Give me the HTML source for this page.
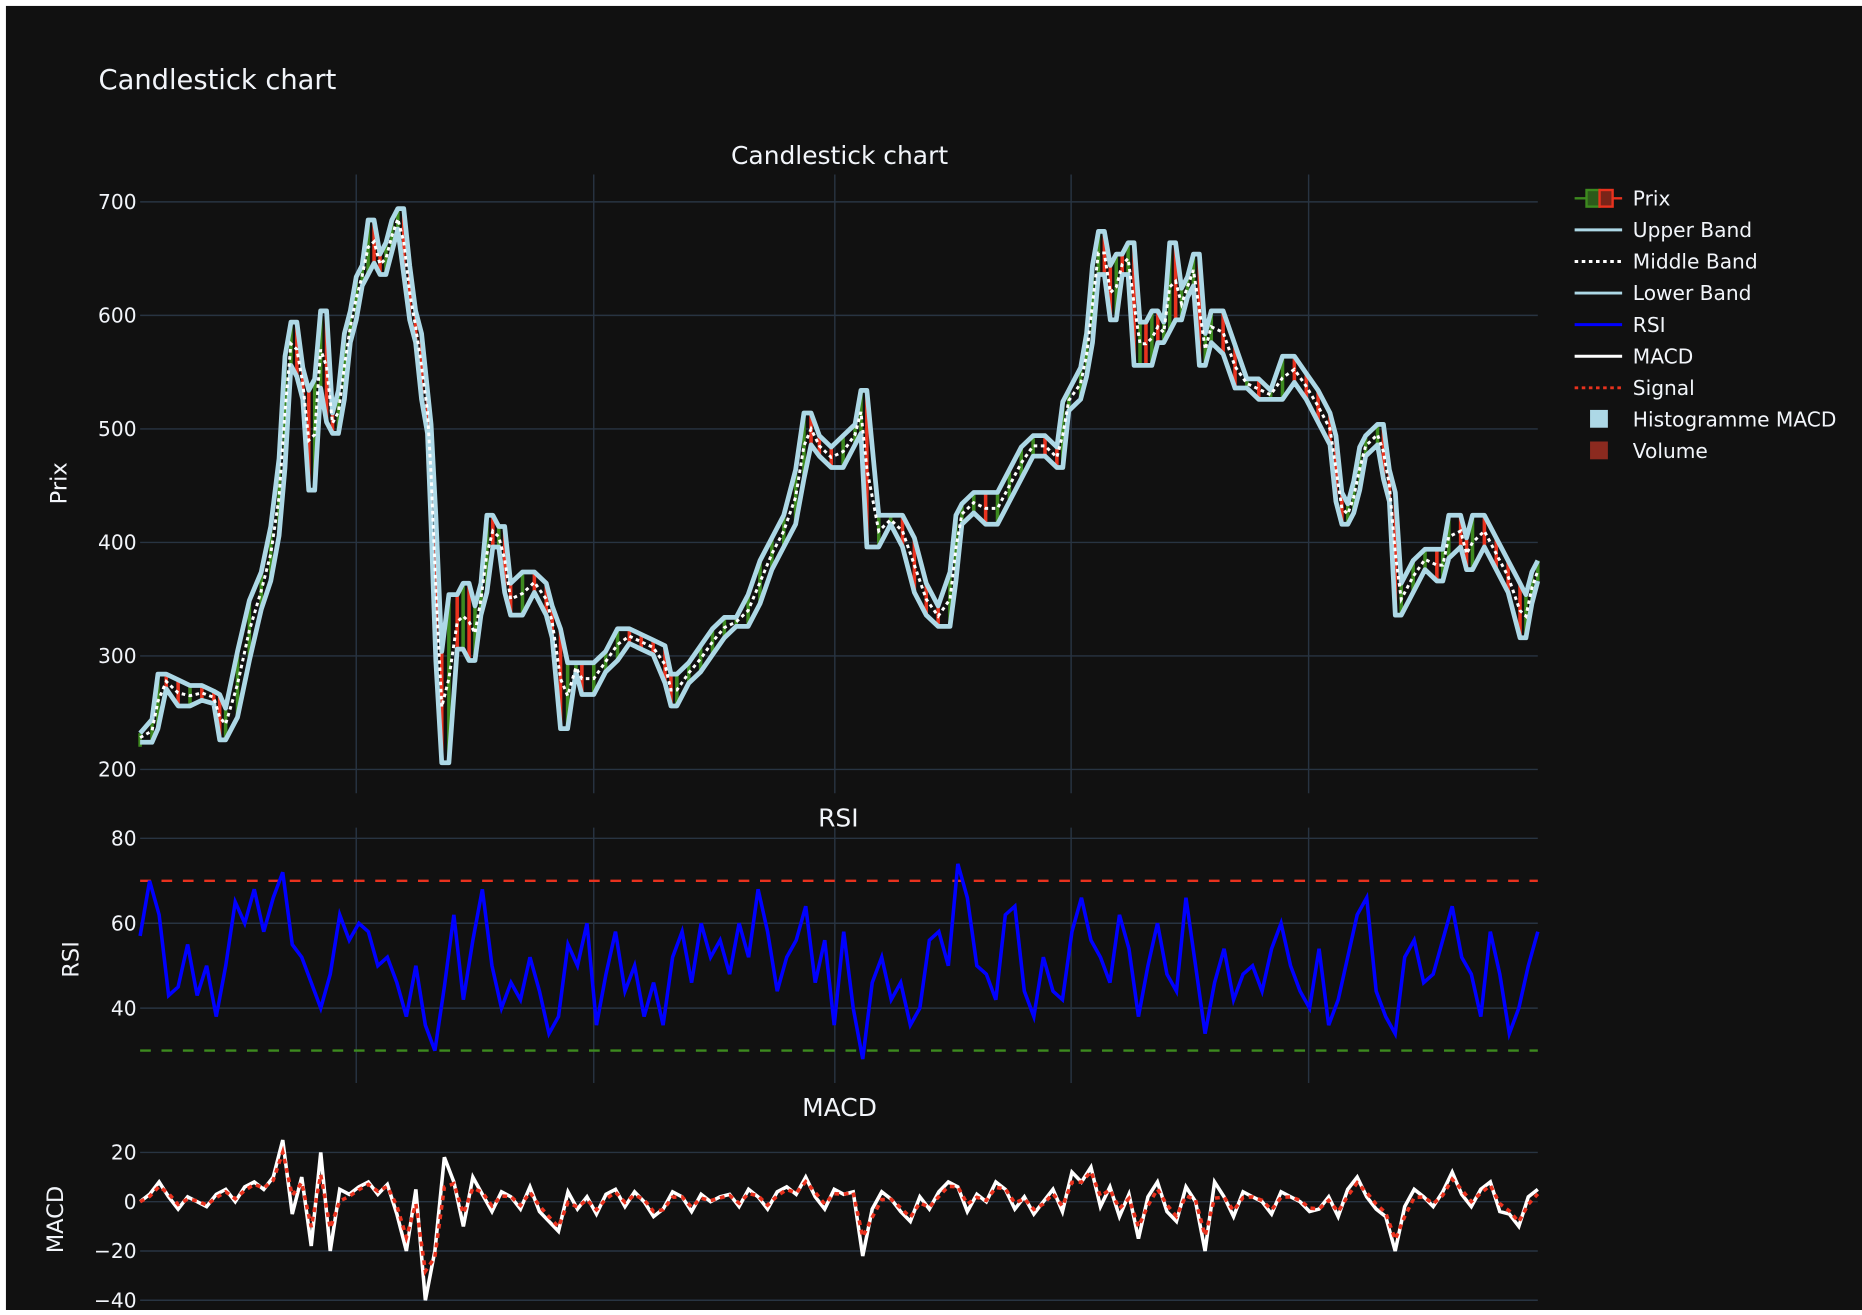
<!DOCTYPE html>
<html><head><meta charset="utf-8"><style>
html,body{margin:0;padding:0;background:#fff;}
body{width:1862px;height:1310px;overflow:hidden;}
svg text{font-family:"DejaVu Sans","Liberation Sans",sans-serif;fill:#f2f5fa;}
</style></head><body>
<svg id="chart" width="1862" height="1310" viewBox="0 0 1568 1103.2" preserveAspectRatio="none" xmlns="http://www.w3.org/2000/svg">
<rect x="5" y="5" width="1563" height="1100" fill="#111111"/>
<text x="83" y="75" font-size="23">Candlestick chart</text>
<text x="707" y="138" font-size="21" text-anchor="middle">Candlestick chart</text>
<text x="706" y="696" font-size="21" text-anchor="middle">RSI</text>
<text x="707" y="940" font-size="21" text-anchor="middle">MACD</text>
<text transform="translate(56,407) rotate(-90)" font-size="19" text-anchor="middle">Prix</text>
<text transform="translate(66,808) rotate(-90)" font-size="19" text-anchor="middle">RSI</text>
<text transform="translate(53,1027) rotate(-90)" font-size="19" text-anchor="middle">MACD</text>
<g id="grid"></g>
<g id="price"></g>
<g id="rsi"></g>
<g id="macd"></g>
<g id="legend"></g>
</svg>
<script>
const priceDays=[0,10,15,22,32,42,52,62,67,72,82,92,102,110,117,122,127,132,137,142,147,152,157,162,167,172,177,182,187,192,197,202,207,212,217,222,227,232,237,242,245,249,254,260,267,272,277,282,287,292,297,302,307,312,322,332,342,347,354,360,367,372,382,392,402,412,422,432,442,447,452,462,472,482,492,502,512,522,532,542,552,559,565,572,582,592,602,607,612,622,632,642,652,662,672,682,687,692,702,712,722,732,742,752,762,772,777,782,792,797,802,807,812,817,822,827,832,837,842,847,852,857,862,867,872,877,882,887,892,897,902,912,922,932,942,952,962,972,982,992,1002,1007,1012,1017,1022,1027,1032,1042,1047,1052,1057,1062,1072,1082,1092,1097,1102,1112,1117,1122,1132,1142,1152,1162,1167,1172,1177];
const priceClose=[228,240,280,275,260,270,265,262,230,250,300,345,370,410,470,560,590,550,530,450,540,600,510,500,530,580,600,630,640,680,650,640,660,680,690,640,600,580,530,500,420,300,210,350,310,360,300,340,360,420,400,410,360,340,370,360,340,320,240,290,290,270,290,300,320,315,310,305,280,260,280,290,305,320,330,330,350,380,400,420,460,510,490,480,470,490,500,530,400,420,420,400,360,340,330,370,420,430,440,420,440,460,480,490,480,470,520,530,550,580,640,670,640,600,650,640,660,560,590,560,600,580,590,660,600,620,630,650,560,580,600,570,540,540,530,530,560,545,530,510,490,440,420,430,450,480,490,500,460,440,340,360,380,390,370,390,420,400,380,420,400,380,360,320,350,370,380];
const rsiValues=[57,70,62,43,45,55,43,50,38,50,65,60,68,58,66,72,55,52,46,40,48,62,56,60,58,50,52,46,38,50,36,30,45,62,42,56,68,50,40,46,42,52,44,34,38,55,50,60,36,48,58,44,50,38,46,36,52,58,46,60,52,56,48,60,52,68,58,44,52,56,64,46,56,36,58,40,28,46,52,42,46,36,40,56,58,50,74,66,50,48,42,62,64,44,38,52,44,42,58,66,56,52,46,62,54,38,50,60,48,44,66,50,34,46,54,42,48,50,44,54,60,50,44,40,54,36,42,52,62,66,44,38,34,52,56,46,48,56,64,52,48,38,58,48,34,40,50,58];
const macdValues=[0,3,8,2,-3,2,0,-2,3,5,0,6,8,5,10,25,-5,10,-18,20,-20,5,3,6,8,3,7,-5,-20,5,-40,-20,18,8,-10,10,3,-4,4,2,-3,6,-4,-8,-12,4,-3,2,-5,3,5,-2,4,0,-6,-3,4,2,-4,3,0,2,3,-2,5,2,-3,4,6,3,10,2,-3,5,3,4,-22,-3,4,1,-4,-8,2,-3,4,8,6,-4,3,0,8,5,-3,2,-5,0,5,-4,12,8,14,-2,6,-6,3,-15,2,8,-4,-8,6,0,-20,8,2,-6,4,2,0,-5,4,2,0,-4,-3,2,-6,5,10,2,-3,-6,-20,-2,5,2,-2,4,12,3,-2,5,8,-4,-5,-10,2,5];
const priceTicks=[200,300,400,500,600,700];
const rsiTicks=[40,60,80];
const macdTicks=[-40,-20,0,20];
const vGridDays=[182,382,585,784,984];

const NS='http://www.w3.org/2000/svg';
const X0=118,X1=1295,DAYS=1177;
const xDay=d=>X0+(d/DAYS)*(X1-X0);
const yPrice=v=>648-(v-200)*0.956;
const yRsi=v=>706+(80-v)*3.575;
const yMacd=v=>1012-v*2.075;
function mk(tag,attrs,parent){const e=document.createElementNS(NS,tag);for(const k in attrs)e.setAttribute(k,attrs[k]);parent.appendChild(e);return e;}
const grid=document.getElementById('grid');
function hline(y,parent,name){const l=mk('line',{x1:X0,x2:X1,y1:y,y2:y,stroke:'#283442','stroke-width':1.2},parent);

}
function label(x,y,t,parent,name){const e=mk('text',{x:x,y:y,'font-size':17,'text-anchor':'end'},parent);e.textContent=t;

}
vGridDays.forEach(d=>{const x=xDay(d);
const a=mk('line',{x1:x,x2:x,y1:147,y2:668,stroke:'#283442','stroke-width':1.2},grid);


const b=mk('line',{x1:x,x2:x,y1:697,y2:912,stroke:'#283442','stroke-width':1.2},grid);

});
priceTicks.forEach(v=>{hline(yPrice(v),grid,'price-gridline');label(115,yPrice(v)+6,String(v),grid,'price-tick-label');});
rsiTicks.forEach(v=>{hline(yRsi(v),grid,'rsi-gridline');label(115,yRsi(v)+6,String(v),grid,'rsi-tick-label');});
macdTicks.forEach(v=>{hline(yMacd(v),grid,'macd-gridline');label(115,yMacd(v)+6,v<0?'\u2212'+Math.abs(v):String(v),grid,'macd-tick-label');});

// price
const pg=document.getElementById('price');
const n=Math.min(priceClose.length,priceDays.length);
const days=priceDays.slice(0,n);
const upper=[],lower=[],mid=[];
for(let i=0;i<n;i++){const a=priceClose[Math.max(0,i-1)],b=priceClose[i];upper.push(Math.max(a,b)+4);lower.push(Math.min(a,b)-4);mid.push((a+b)/2);}
function path(xs,ys,yf){return xs.map((d,i)=>(i?'L':'M')+xDay(d).toFixed(1)+','+yf(ys[i]).toFixed(1)).join('');}
for(let i=0;i<n;i++){const o=i?priceClose[i-1]:priceClose[i]-4,c=priceClose[i];const up=c>=o;const x=xDay(days[i]);
const r=mk('line',{x1:x,x2:x,y1:yPrice(Math.max(o,c)+4),y2:yPrice(Math.min(o,c)-4),stroke:up?'#3d8a1f':'#e8321e','stroke-width':3},pg);

}
const ub=mk('path',{d:path(days,upper,yPrice),fill:'none',stroke:'#add8e6','stroke-width':4,'stroke-linejoin':'round'},pg);


const lb=mk('path',{d:path(days,lower,yPrice),fill:'none',stroke:'#add8e6','stroke-width':4,'stroke-linejoin':'round'},pg);


const mb=mk('path',{d:path(days,mid,yPrice),fill:'none',stroke:'#ffffff','stroke-width':2.5,'stroke-dasharray':'3,3'},pg);



// rsi
const rg=document.getElementById('rsi');
const ob=mk('line',{x1:X0,x2:X1,y1:yRsi(70),y2:yRsi(70),stroke:'#e8321e','stroke-width':2,'stroke-dasharray':'9,9'},rg);


const os=mk('line',{x1:X0,x2:X1,y1:yRsi(30),y2:yRsi(30),stroke:'#3d8a1f','stroke-width':2,'stroke-dasharray':'9,9'},rg);


const step=(X1-X0)/(rsiValues.length-1);
const rp=rsiValues.map((v,i)=>(i?'L':'M')+(X0+i*step).toFixed(1)+','+yRsi(v).toFixed(1)).join('');
const rl=mk('path',{d:rp,fill:'none',stroke:'#0000ff','stroke-width':3},rg);



// macd
const mg=document.getElementById('macd');
const ms=(X1-X0)/(macdValues.length-1);
const sig=[];macdValues.forEach((v,i)=>sig.push(i?sig[i-1]*0.3+v*0.7:v));
const mp=macdValues.map((v,i)=>(i?'L':'M')+(X0+i*ms).toFixed(1)+','+yMacd(v).toFixed(1)).join('');
const sp=sig.map((v,i)=>(i?'L':'M')+(X0+i*ms).toFixed(1)+','+yMacd(v).toFixed(1)).join('');
const ml=mk('path',{d:mp,fill:'none',stroke:'#ffffff','stroke-width':3},mg);


const sl=mk('path',{d:sp,fill:'none',stroke:'#e8321e','stroke-width':3,'stroke-dasharray':'4,4'},mg);



// legend
const lg=document.getElementById('legend');
const items=['Prix','Upper Band','Middle Band','Lower Band','RSI','MACD','Signal','Histogramme MACD','Volume'];
items.forEach((t,i)=>{const y=167+i*26.6;const g=mk('g',{},lg);


if(i===0){mk('line',{x1:1326,x2:1336,y1:y,y2:y,stroke:'#3d8a1f','stroke-width':2},g);mk('rect',{x:1336,y:y-7,width:11,height:14,fill:'#2c5a1a',stroke:'#3d8a1f','stroke-width':2},g);mk('rect',{x:1347,y:y-7,width:11,height:14,fill:'#7a2418',stroke:'#e8321e','stroke-width':2},g);mk('line',{x1:1358,x2:1366,y1:y,y2:y,stroke:'#e8321e','stroke-width':2},g);}
else if(i===7||i===8){mk('rect',{x:1339,y:y-8,width:15,height:15,fill:i===7?'#add8e6':'#8b2a1f'},g);}
else{const col={1:'#add8e6',2:'#ffffff',3:'#add8e6',4:'#0000ff',5:'#ffffff',6:'#e8321e'}[i];const dash=(i===2||i===6)?'3,3':'none';mk('line',{x1:1326,x2:1366,y1:y,y2:y,stroke:col,'stroke-width':2.5,'stroke-dasharray':dash},g);}
const tx=mk('text',{x:1375,y:y+6,'font-size':17},g);tx.textContent=t;});
</script>
</body></html>
